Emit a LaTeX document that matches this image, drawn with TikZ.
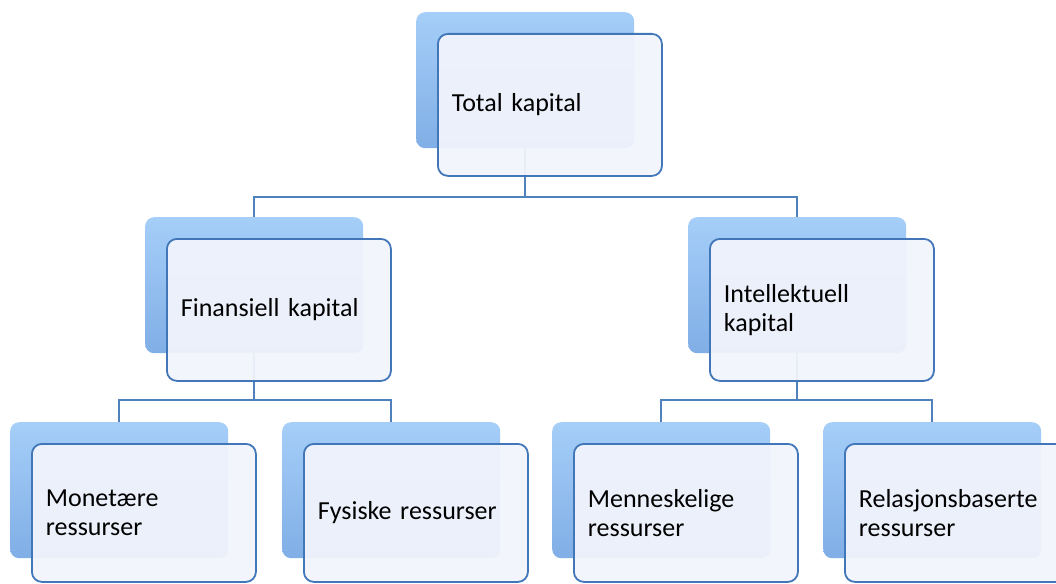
\documentclass[tikz,border=0pt]{standalone}
\usepackage{fontspec}
\setmainfont{Carlito}
\definecolor{backtop}{RGB}{165,206,248}
\definecolor{backbot}{RGB}{128,174,230}
\definecolor{frontfill}{RGB}{242,244,252}
\definecolor{frontline}{RGB}{65,118,184}
\definecolor{connline}{RGB}{79,129,189}
\begin{document}
\begin{tikzpicture}[x=1pt,y=-1pt,
  back/.style={rounded corners=9pt, minimum width=218pt, minimum height=136pt, inner sep=0pt,
    top color=backtop, bottom color=backbot, draw=none, anchor=north west},
  front/.style={rounded corners=10pt, draw=frontline, line width=1.8pt, fill=frontfill,
    fill opacity=0.94, text opacity=1, draw opacity=1, minimum height=142pt, text width=196pt,
    inner xsep=14pt, inner ysep=0pt, align=left, anchor=north west,
    font=\fontsize{26}{29}\selectfont},
  low/.style={minimum height=138pt},
  conn/.style={draw=connline, line width=2pt}]
\useasboundingbox (0,0) rectangle (1056,583);
% back shapes
\node[back] (tb) at (416,12) {};
\node[back] (lb) at (145,217) {};
\node[back] (rb) at (688,217) {};
\node[back] (b1) at (10,422) {};
\node[back] (b2) at (282,422) {};
\node[back] (b3) at (552,422) {};
\node[back] (b4) at (823,422) {};
% connectors
\draw[conn] (tb.south) -- ++(0,49) -| (lb.north);
\draw[conn] (tb.south) -- ++(0,49) -| (rb.north);
\draw[conn] (lb.south) -- ++(0,47) -| (b1.north);
\draw[conn] (lb.south) -- ++(0,47) -| (b2.north);
\draw[conn] (rb.south) -- ++(0,47) -| (b3.north);
\draw[conn] (rb.south) -- ++(0,47) -| (b4.north);
% front shapes
\node[front] (tf) at (437,33) {Total kapital};
\node[front] (lf) at (166,238) {Finansiell kapital};
\node[front] (rf) at (709,238) {Intellektuell\\kapital};
\node[front,low] (f1) at (31,443) {Monetære\\ressurser};
\node[front,low] (f2) at (303,443) {Fysiske ressurser};
\node[front,low] (f3) at (573,443) {Menneskelige\\ressurser};
\node[front,low] (f4) at (844,443) {Relasjonsbaserte\\ressurser};
\end{tikzpicture}
\end{document}
